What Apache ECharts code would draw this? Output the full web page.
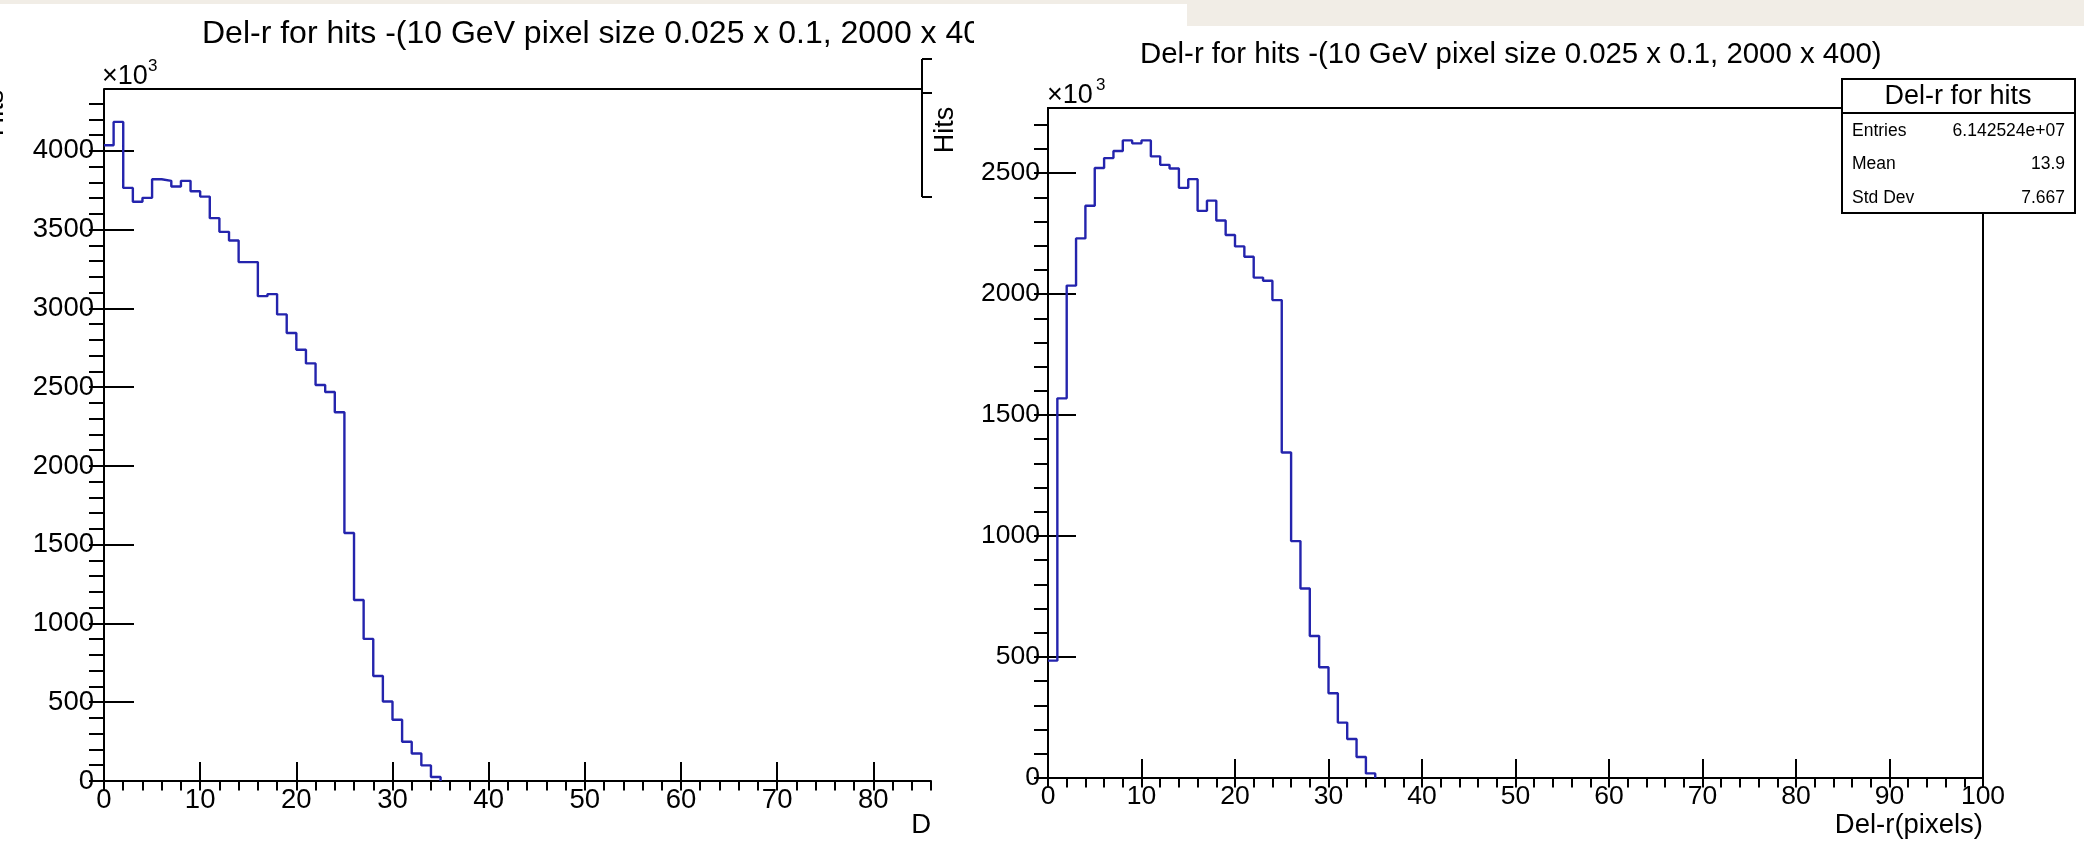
<!DOCTYPE html>
<html>
<head>
<meta charset="utf-8">
<script src="https://cdn.jsdelivr.net/npm/echarts@6/dist/echarts.min.js"></script>
<style>
html,body{margin:0;padding:0;background:#fff;}
#c{width:2084px;height:856px;}
</style>
</head>
<body>
<div id="c"></div>
<script>
// ---- data (values shown in units of 10^3 hits), bins of width 1 starting at 0 ----
const leftBins = [4036, 4184, 3765, 3677, 3702, 3820, 3810, 3774, 3810, 3744,
                  3710, 3573, 3486, 3431, 3294, 3294, 3078, 3091, 2962, 2844,
                  2738, 2651, 2514, 2469, 2341, 1574, 1149, 902, 667, 505,
                  389, 249, 175, 99, 25];
const rightBins = [485, 1569, 2035, 2230, 2365, 2521, 2562, 2591, 2635, 2623,
                   2635, 2569, 2534, 2519, 2439, 2475, 2344, 2386, 2304, 2244,
                   2197, 2154, 2068, 2055, 1975, 1345, 979, 783, 587, 458,
                   350, 229, 161, 87, 19];
const leftXTicks = [0, 10, 20, 30, 40, 50, 60, 70, 80];
const rightXTicks = [0, 10, 20, 30, 40, 50, 60, 70, 80, 90, 100];
const leftYTicks = [0, 500, 1000, 1500, 2000, 2500, 3000, 3500, 4000];
const rightYTicks = [0, 500, 1000, 1500, 2000, 2500];
const leftXMax = 86, rightXMax = 100;
const leftYMax = 4393, rightYMax = 2769;
const xMinorStep = 2, yMinorStep = 100;
const titleText = 'Del-r for hits -(10 GeV pixel size 0.025 x 0.1, 2000 x 400)';
const statsTitle = 'Del-r for hits';
const statsRows = [['Entries', '6.142524e+07'], ['Mean', '13.9'], ['Std Dev', '7.667']];
const leftXTitle = 'D';
const rightXTitle = 'Del-r(pixels)';
const yTitle = 'Hits';

// ---- helpers ----
function minorTicks(max, step) { const a = []; for (let v = 0; v <= max + 1e-9; v += step) a.push(v); return a; }
function histData(bins) { const d = bins.map((v, i) => [i, v]); d.push([bins.length, 0]); return d; }

const FONT = '"Liberation Sans", Arial, Helvetica, sans-serif';
const BLACK = '#000';
const LINE = '#2424ad';
const plain = v => String(v);

function majorX(grid, max, ticks, fs) {
  return { gridIndex: grid, type: 'value', min: 0, max: max,
    axisLine: { show: true, onZero: false, lineStyle: { color: BLACK, width: 2 } },
    axisTick: { show: true, inside: true, length: 19, customValues: ticks, lineStyle: { color: BLACK, width: 2 } },
    axisLabel: { show: true, customValues: ticks, formatter: plain, color: BLACK, fontSize: fs, fontFamily: FONT, margin: 5 },
    splitLine: { show: false } };
}
function minorX(grid, max) {
  return { gridIndex: grid, type: 'value', min: 0, max: max,
    axisLine: { show: false },
    axisTick: { show: true, inside: true, length: 9.5, customValues: minorTicks(max, xMinorStep), lineStyle: { color: BLACK, width: 2 } },
    axisLabel: { show: false }, splitLine: { show: false } };
}
function majorY(grid, max, ticks, len, fs, margin) {
  return { gridIndex: grid, type: 'value', min: 0, max: max,
    axisLine: { show: true, onZero: false, lineStyle: { color: BLACK, width: 2 } },
    axisTick: { show: true, inside: true, length: len, customValues: ticks, lineStyle: { color: BLACK, width: 2 } },
    axisLabel: { show: true, customValues: ticks, formatter: plain, color: BLACK, fontSize: fs, fontFamily: FONT, margin: margin },
    splitLine: { show: false } };
}
function minorY(grid, max, len) {
  return { gridIndex: grid, type: 'value', min: 0, max: max,
    axisLine: { show: false },
    axisTick: { show: true, inside: true, length: len, customValues: minorTicks(max - 1, yMinorStep), lineStyle: { color: BLACK, width: 2 } },
    axisLabel: { show: false }, splitLine: { show: false } };
}
function txt(text, x, y, size, align, valign, extra) {
  return Object.assign({ type: 'text', x: x, y: y, z: 50,
    style: { text: text, x: 0, y: 0, fill: BLACK, font: size + 'px ' + FONT,
      textAlign: align, align: align, textVerticalAlign: valign, verticalAlign: valign } }, extra || {});
}
function line(x1, y1, x2, y2, z) {
  return { type: 'line', z: z || 50, shape: { x1: x1, y1: y1, x2: x2, y2: y2 }, style: { stroke: BLACK, lineWidth: 2 } };
}

const chart = echarts.init(document.getElementById('c'), null, { renderer: 'canvas' });

const graphics = [
  // paper background strips
  { type: 'rect', z: 1, shape: { x: 0, y: 0, width: 2084, height: 4 }, style: { fill: '#f1ede6' } },
  { type: 'rect', z: 1, shape: { x: 1187, y: 0, width: 897, height: 26 }, style: { fill: '#f1ede6' } },
  // left title (cut off by the right image)
  txt(titleText, 202, 34, 32, 'left', 'middle', { z: 40 }),
  { type: 'rect', z: 45, shape: { x: 974, y: 4, width: 160, height: 52 }, style: { fill: '#fff' } },
  // right title
  txt(titleText, 1140, 55, 29.4, 'left', 'middle'),
  // x10^3 labels
  txt('\u00d710', 102, 77, 27, 'left', 'middle'),
  txt('3', 148, 66, 17, 'left', 'middle'),
  txt('\u00d710', 1047, 96, 27, 'left', 'middle'),
  txt('3', 1096, 85, 17, 'left', 'middle'),
  // y titles
  txt(yTitle, -4, 113, 27, 'center', 'middle', { rotation: Math.PI / 2 }),
  txt(yTitle, 946, 130, 27, 'center', 'middle', { rotation: Math.PI / 2 }),
  // x titles
  txt(leftXTitle, 931, 825, 27.5, 'right', 'middle'),
  txt(rightXTitle, 1983, 825, 27.5, 'right', 'middle'),
  // left frame top line and cut-off box edge
  line(104, 89, 922, 89),
  line(922, 59, 922, 197),
  line(922, 59, 932, 59),
  line(922, 93, 932, 93),
  line(922, 197, 932, 197),
  // stats box
  { type: 'rect', z: 60, shape: { x: 1842, y: 79, width: 233, height: 134 }, style: { fill: '#fff', stroke: BLACK, lineWidth: 2 } },
  line(1842, 113, 2075, 113, 61),
  txt(statsTitle, 1958, 97, 27, 'center', 'middle', { z: 62 })
];
statsRows.forEach((r, i) => {
  const y = 131 + i * 33.5;
  graphics.push(txt(r[0], 1852, y, 17.5, 'left', 'middle', { z: 62 }));
  graphics.push(txt(r[1], 2065, y, 17.5, 'right', 'middle', { z: 62 }));
});

chart.setOption({
  animation: false,
  backgroundColor: '#fff',
  grid: [
    { left: 104, top: 89, width: 827, height: 692, show: false },
    { left: 1048, top: 108, width: 935, height: 670, show: true, borderColor: BLACK, borderWidth: 2, backgroundColor: 'transparent' }
  ],
  xAxis: [
    majorX(0, leftXMax, leftXTicks, 27.5),
    minorX(0, leftXMax),
    majorX(1, rightXMax, rightXTicks, 26.5),
    minorX(1, rightXMax)
  ],
  yAxis: [
    majorY(0, leftYMax, leftYTicks, 30, 27.5, 10),
    minorY(0, leftYMax, 15),
    majorY(1, rightYMax, rightYTicks, 28, 26.5, 8),
    minorY(1, rightYMax, 14)
  ],
  series: [
    { type: 'line', xAxisIndex: 0, yAxisIndex: 0, data: histData(leftBins), step: 'end',
      showSymbol: false, symbol: 'none', silent: true, lineStyle: { color: LINE, width: 2.4 } },
    { type: 'line', xAxisIndex: 2, yAxisIndex: 2, data: histData(rightBins), step: 'end',
      showSymbol: false, symbol: 'none', silent: true, lineStyle: { color: LINE, width: 2.4 } }
  ],
  graphic: graphics
});
</script>
</body>
</html>
